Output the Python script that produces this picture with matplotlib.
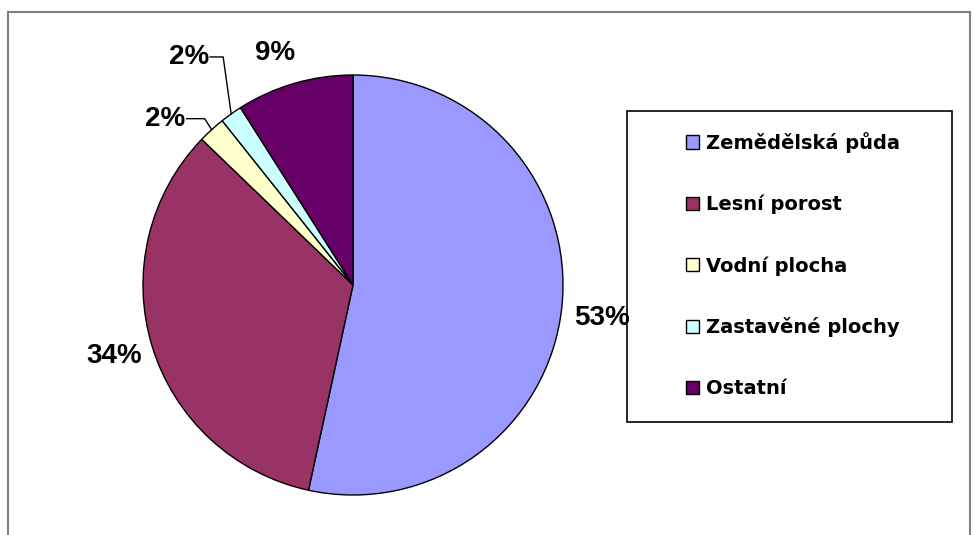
import matplotlib
matplotlib.use("Agg")
import matplotlib.pyplot as plt
from matplotlib.patches import Rectangle
from matplotlib.lines import Line2D
import numpy as np

categories = ["Zemědělská půda", "Lesní porost", "Vodní plocha", "Zastavěné plochy", "Ostatní"]
values = [53.4, 33.8, 2.1, 1.7, 9.0]
colors = ["#9999FF", "#993366", "#FFFFCC", "#CCFFFF", "#660066"]

plt.rcParams['font.family'] = ['Liberation Sans', 'DejaVu Sans']

W, H = 973, 535
fig = plt.figure(figsize=(W / 100, H / 100), dpi=100)
ax = fig.add_axes([0, 0, 1, 1])

cx, cy, R = 353, H - 285, 210
wedges, _ = ax.pie(values, colors=colors, startangle=90, counterclock=False,
                   center=(cx, cy), radius=R,
                   wedgeprops=dict(edgecolor="black", linewidth=1.0))
ax.set_xlim(0, W)
ax.set_ylim(0, H)
ax.set_aspect("equal")
ax.axis("off")

# outer frame (bottom edge cut off)
frame_kw = dict(color="#808080", linewidth=1.5, transform=fig.transFigure)
fig.add_artist(Line2D([8 / W, 8 / W], [0, 1 - 12 / H], **frame_kw))
fig.add_artist(Line2D([8 / W, 970 / W], [1 - 12 / H, 1 - 12 / H], **frame_kw))
fig.add_artist(Line2D([970 / W, 970 / W], [0, 1 - 12 / H], **frame_kw))

label_font = dict(fontsize=20, fontweight="bold", color="black")


def edge_point(w):
    th = np.deg2rad((w.theta1 + w.theta2) / 2)
    return cx + R * np.cos(th), cy + R * np.sin(th)


# big labels: offsets (pixels) from the wedge's outer mid point
big = {0: (40, -11), 1: (-38, -10), 4: (-19, 30)}
for i, (dx, dy) in big.items():
    x, y = edge_point(wedges[i])
    ax.text(x + dx, y + dy, f"{values[i]:.0f}%", ha="center", va="center", **label_font)

# small labels with leader lines: (bend dx, bend dy, line end dx)
small = {2: (-7, 11, -25), 3: (-8, 57, -21)}
for i, (bx, by, ex) in small.items():
    x, y = edge_point(wedges[i])
    ty = y + by
    ax.plot([x, x + bx, x + ex], [y, ty, ty], color="black", linewidth=1)
    ax.text(x + ex - 1, ty, f"{values[i]:.0f}%", ha="right", va="center", **label_font)

# legend box
fig.add_artist(Rectangle((627 / W, 1 - 422 / H), (952 - 627) / W, (422 - 111) / H,
                         transform=fig.transFigure, facecolor="none",
                         edgecolor="black", linewidth=1.2, zorder=3))
handles = [Rectangle((0, 0), 1, 1, facecolor=c, edgecolor="black", linewidth=1) for c in colors]
leg = fig.legend(handles, categories, loc="upper left",
                 bbox_to_anchor=(686 / W, 1 - 132 / H), frameon=False,
                 prop=dict(family="DejaVu Sans", size=14, weight="bold"),
                 handlelength=0.68, handleheight=0.68,
                 handletextpad=0.35, labelspacing=2.15, borderpad=0, borderaxespad=0)

fig.savefig("out.png", dpi=100)
